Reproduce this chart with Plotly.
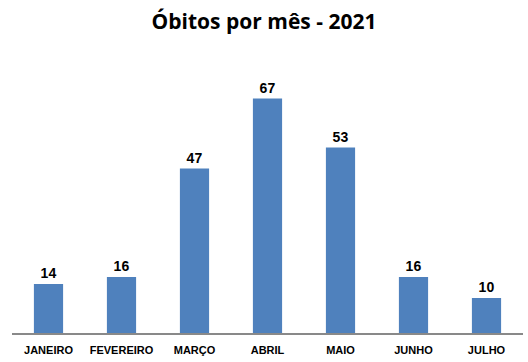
import plotly.graph_objects as go

meses = ["JANEIRO", "FEVEREIRO", "MARÇO", "ABRIL", "MAIO", "JUNHO", "JULHO"]
obitos = [14, 16, 47, 67, 53, 16, 10]

fig = go.Figure(go.Bar(
    x=meses, y=obitos,
    marker=dict(color="#4F81BD", line=dict(width=0)),
    text=obitos, textposition="outside", cliponaxis=False,
    textfont=dict(family="Liberation Sans", size=14, color="black", weight="bold"),
    hoverinfo="skip",
))
fig.update_layout(
    width=528, height=362,
    margin=dict(l=12, r=5, t=60, b=29, autoexpand=False),
    paper_bgcolor="white", plot_bgcolor="white",
    bargap=0.6,
    showlegend=False,
    title=dict(text="<b>Óbitos por mês - 2021</b>", x=0.5, xanchor="center", y=0.94, yanchor="middle",
               font=dict(family="Open Sans", size=21, color="black")),
    xaxis=dict(showline=True, linecolor="#898989", linewidth=1.5, ticks="",
               automargin=False, ticklabelstandoff=6,
               tickfont=dict(family="Liberation Sans", size=11, color="black", weight="bold"),
               showgrid=False),
    yaxis=dict(range=[0, 78], visible=False, showgrid=False, automargin=False),
)
fig.write_html("out.html", config={"displayModeBar": False},
               post_script="document.body.style.margin='0';")
